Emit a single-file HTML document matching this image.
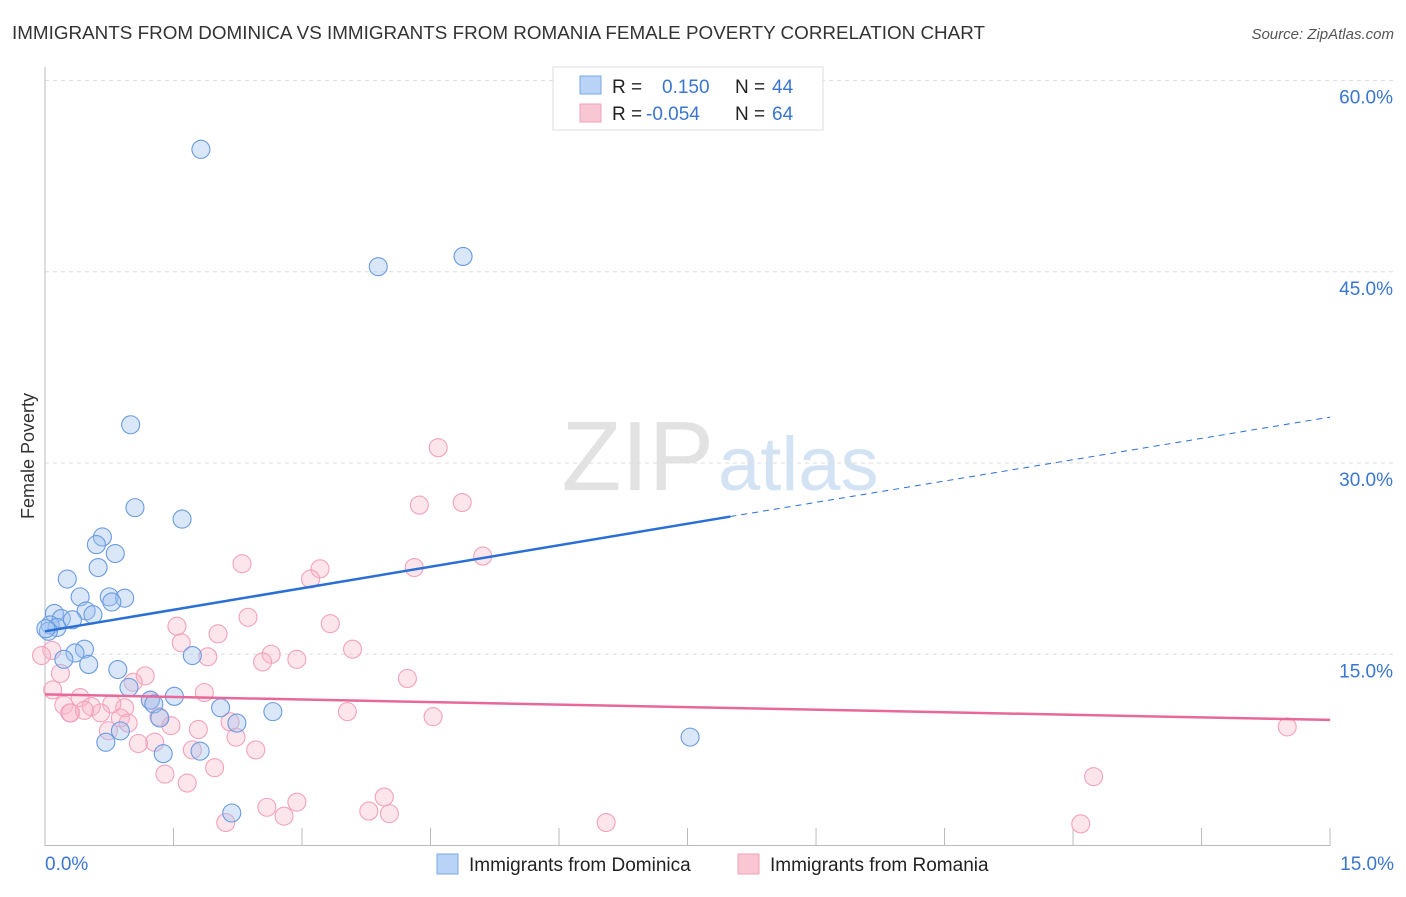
<!DOCTYPE html>
<html><head><meta charset="utf-8"><style>
body{margin:0;background:#fff;font-family:"Liberation Sans",sans-serif;}
svg text{font-family:"Liberation Sans",sans-serif;}
</style></head><body>
<svg id="chart" width="1406" height="892">
<text x="12" y="39" font-size="18.5" fill="#333" textLength="973" lengthAdjust="spacingAndGlyphs">IMMIGRANTS FROM DOMINICA VS IMMIGRANTS FROM ROMANIA FEMALE POVERTY CORRELATION CHART</text>
<text x="1394" y="39" font-size="15" fill="#555" font-style="italic" text-anchor="end">Source: ZipAtlas.com</text>
<text x="714" y="490" font-size="98" fill="#e2e2e2" text-anchor="end" font-family="Liberation Serif">ZIP</text>
<text x="718" y="490" font-size="76" fill="#d3e3f4">atlas</text>
<text x="34" y="456" font-size="18" fill="#333" transform="rotate(-90 34 456)" text-anchor="middle">Female Poverty</text>
<g id="grid"></g><g id="marks"></g>
<g>
<rect x="553" y="67" width="270" height="63" fill="#fff" stroke="#ddd"/>
<rect x="580" y="76" width="21" height="18" fill="#b8d3f5" stroke="#7aa8e6"/>
<rect x="580" y="104" width="21" height="18" fill="#f9c6d4" stroke="#f0a0b8"/>
<text x="612" y="93" font-size="19" fill="#222">R = </text><text x="662" y="93" font-size="19" fill="#3a76d0">0.150</text>
<text x="735" y="93" font-size="19" fill="#222">N = </text><text x="772" y="93" font-size="19" fill="#3a76d0">44</text>
<text x="612" y="120" font-size="19" fill="#222">R = </text><text x="646" y="120" font-size="19" fill="#3a76d0">-0.054</text>
<text x="735" y="120" font-size="19" fill="#222">N = </text><text x="772" y="120" font-size="19" fill="#3a76d0">64</text>
</g>
<g>
<rect x="437" y="854" width="21" height="20" fill="#b8d3f5" stroke="#7aa8e6"/>
<text x="469" y="871" font-size="19" fill="#222">Immigrants from Dominica</text>
<rect x="738" y="854" width="21" height="20" fill="#f9c6d4" stroke="#f0a0b8"/>
<text x="770" y="871" font-size="19" fill="#222">Immigrants from Romania</text>
</g>
</svg>
<script>
const yTicks=[15,30,45,60];
const xTickLabels=["0.0%","15.0%"];
const blueX=[1.82,3.89,4.88,1.00,1.05,1.60,0.67,0.60,0.82,0.62,0.26,0.41,0.75,0.93,0.78,0.11,0.48,0.56,0.19,0.32,0.06,0.14,0.04,0.46,0.35,0.22,0.51,0.85,1.72,0.98,1.23,1.27,1.51,2.05,1.34,2.66,2.24,0.88,0.71,1.38,1.81,7.53,2.18,0.01];
const blueY=[54.6,45.4,46.2,33.0,26.5,25.6,24.2,23.6,22.9,21.8,20.9,19.5,19.5,19.4,19.1,18.2,18.4,18.1,17.8,17.7,17.3,17.1,16.8,15.4,15.1,14.6,14.2,13.8,14.9,12.4,11.4,11.1,11.7,10.8,10.0,10.5,9.6,8.99,8.1,7.2,7.4,8.5,2.55,17.0];
const pinkX=[4.59,4.87,4.37,5.11,2.30,3.21,4.31,3.10,2.37,3.33,1.54,2.02,1.59,3.59,2.64,2.94,1.90,2.54,0.08,0.18,1.17,1.03,4.23,0.22,1.86,0.41,0.54,0.93,0.78,3.53,4.53,0.29,0.65,0.88,1.33,2.16,1.47,1.79,0.97,2.23,1.28,1.09,1.72,2.46,0.74,1.98,1.40,1.66,2.59,2.94,3.96,3.78,4.02,2.79,2.11,6.55,12.09,12.24,14.50,0.30,0.09,0.46,1.23,-0.04];
const pinkY=[31.2,26.9,26.7,22.7,22.1,21.7,21.8,20.9,17.9,17.4,17.2,16.6,15.9,15.4,15.0,14.6,14.8,14.4,15.3,13.5,13.3,12.8,13.1,11.0,12.0,11.6,10.9,10.8,11.1,10.5,10.1,10.4,10.4,10.0,10.1,9.7,9.4,9.1,9.6,8.5,8.1,8.0,7.5,7.5,9.0,6.1,5.6,4.9,3.0,3.4,3.8,2.7,2.5,2.3,1.8,1.8,1.7,5.4,9.3,10.4,12.2,10.6,11.4,14.9];
const blueTrend=[16.8,25.8,33.6];const pinkTrend=[11.85,9.85];
const X=v=>45+v*85.67, Y=v=>845.5-v*12.75;
const NS="http://www.w3.org/2000/svg";
const grid=document.getElementById('grid'), marks=document.getElementById('marks');
function el(t,a,p){const e=document.createElementNS(NS,t);for(const k in a)e.setAttribute(k,a[k]);p.appendChild(e);return e;}
for(const t of yTicks){
 const g=el('line',{x1:45,x2:1394,y1:Y(t),y2:Y(t),stroke:'#ddd','stroke-dasharray':'4,4'},grid);
 
 
 const tx=el('text',{x:1393,y:Y(t)+23,'font-size':19,fill:'#3a76d0','text-anchor':'end'},grid);tx.textContent=t.toFixed(1)+'%';
 
 
}
el('line',{x1:45,x2:45,y1:67,y2:846,stroke:'#bbb'},grid);
el('line',{x1:45,x2:1330,y1:845.5,y2:845.5,stroke:'#bbb'},grid);
for(let i=0;i<=10;i++){const tk=el('line',{x1:X(i*1.5),x2:X(i*1.5),y1:828,y2:846,stroke:'#bbb'},grid);
 
 }
const l0=el('text',{x:45,y:870,'font-size':19,fill:'#3a76d0'},grid);l0.textContent=xTickLabels[0];


const l1=el('text',{x:1394,y:870,'font-size':19,fill:'#3a76d0','text-anchor':'end'},grid);l1.textContent=xTickLabels[1];


function dots(xs,ys,fill,stroke,name){for(let i=0;i<xs.length;i++){const c=el('circle',{cx:X(xs[i]),cy:Y(ys[i]),r:9,fill:fill,stroke:stroke,'stroke-width':1.1},marks);
 
 }}
dots(pinkX,pinkY,'rgba(248,180,200,0.35)','#f2a2bb','romania-point');
dots(blueX,blueY,'rgba(160,196,240,0.4)','#6a9be0','dominica-point');
const pl=el('line',{x1:X(0),y1:Y(pinkTrend[0]),x2:X(15),y2:Y(pinkTrend[1]),stroke:'#e8689a','stroke-width':2.5},marks);


const bl=el('line',{x1:X(0),y1:Y(blueTrend[0]),x2:X(8),y2:Y(blueTrend[1]),stroke:'#2a6fd6','stroke-width':2.5},marks);


const bd=el('line',{x1:X(8),y1:Y(blueTrend[1]),x2:X(15),y2:Y(blueTrend[2]),stroke:'#2a6fd6','stroke-width':1,'stroke-dasharray':'6,5'},marks);


</script>
</body></html>
